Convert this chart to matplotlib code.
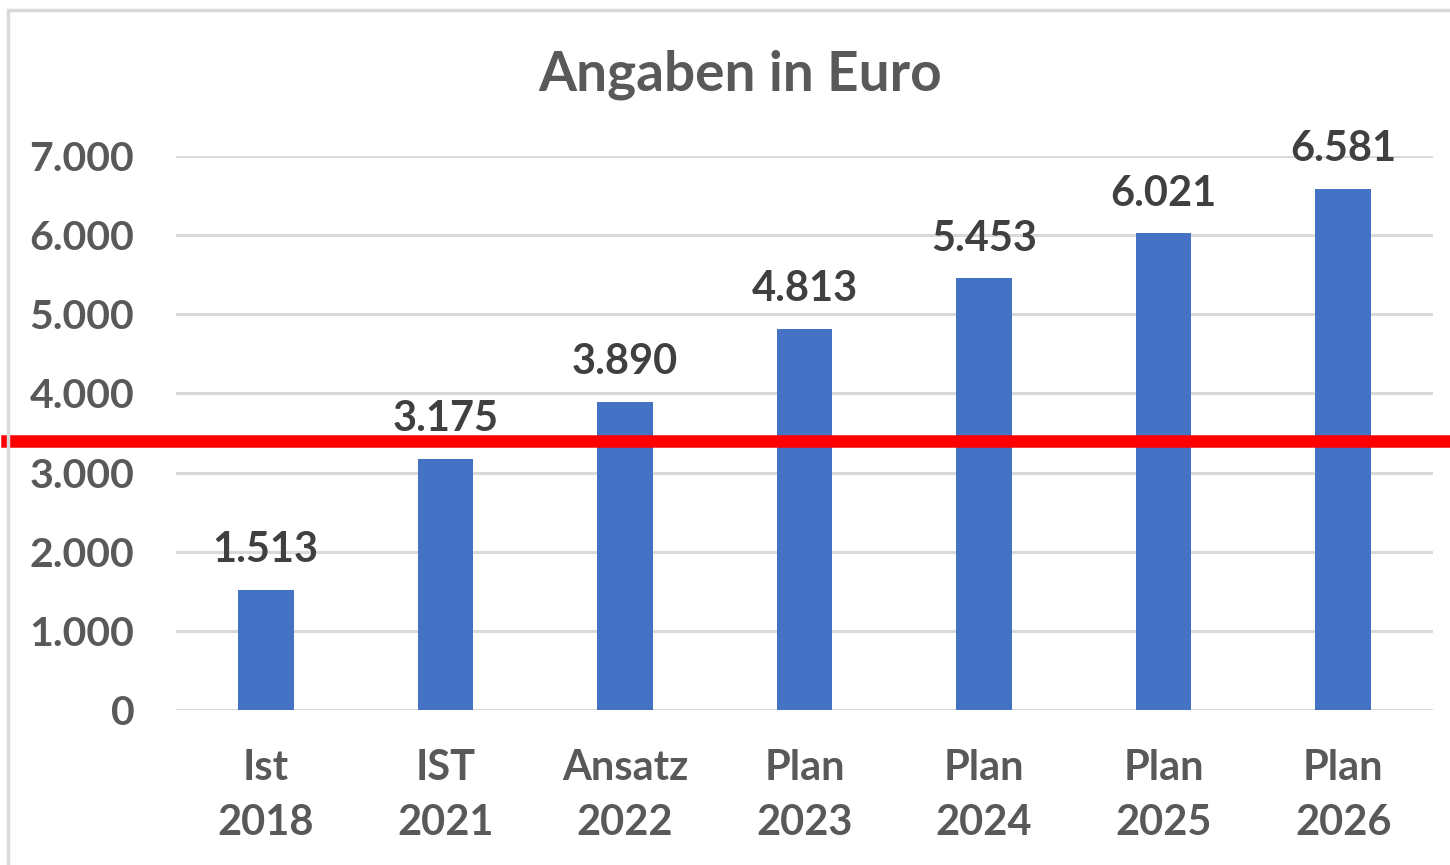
import matplotlib.pyplot as plt
from matplotlib.patches import Rectangle
from matplotlib.ticker import FuncFormatter

categories = ["Ist\n2018", "IST\n2021", "Ansatz\n2022", "Plan\n2023", "Plan\n2024", "Plan\n2025", "Plan\n2026"]
values = [1513, 3175, 3890, 4813, 5453, 6021, 6581]
threshold = 3405

grey = "#595959"
plt.rcParams["font.family"] = ["Lato", "DejaVu Sans"]
plt.rcParams["font.weight"] = "bold"

fig = plt.figure(figsize=(14.5, 8.65), dpi=100)
ax = fig.add_axes([176 / 1450, 155 / 865, 1257 / 1450, 554 / 865])

x = range(len(values))
bars = ax.bar(x, values, width=0.31, color="#4472c4", zorder=3)
ax.set_xlim(-0.5, len(values) - 0.5)
ax.set_ylim(0, 7000)
ax.set_yticks(range(0, 7001, 1000))
ax.yaxis.set_major_formatter(FuncFormatter(lambda v, p: f"{int(v):,}".replace(",", ".")))
ax.set_xticks(list(x))
ax.set_xticklabels(categories, linespacing=1.55)

ax.grid(axis="y", color="#d9d9d9", linewidth=2.2, zorder=0)
for s in ax.spines.values():
    s.set_visible(False)
ax.tick_params(length=0, labelsize=29.5, labelcolor=grey)
ax.tick_params(axis="x", labelsize=30, pad=28)
ax.tick_params(axis="y", pad=30)

for b, v in zip(bars, values):
    ax.annotate(f"{v:,}".replace(",", "."), (b.get_x() + b.get_width() / 2, v),
                xytext=(0, 15), textcoords="offset points", ha="center", va="bottom",
                fontsize=30, color="#404040", fontweight="bold", clip_on=False)

# red reference line, reaching past the plot area
ax.axhline(threshold, xmin=(7 - 176) / 1257, xmax=(1450 - 176) / 1257,
           color="#ff0000", linewidth=9, clip_on=False, zorder=5)

fig.text(740 / 1450, 1 - 75 / 865, "Angaben in Euro", ha="center", va="center",
         fontsize=39.5, color=grey, fontweight="bold")

fig.patches.append(Rectangle((8 / 1450, -0.1), 1.2, 1 - 10 / 865 + 0.1, transform=fig.transFigure,
                             fill=False, edgecolor="#d9d9d9", linewidth=2.5))

fig.savefig("out.png", dpi=100)
